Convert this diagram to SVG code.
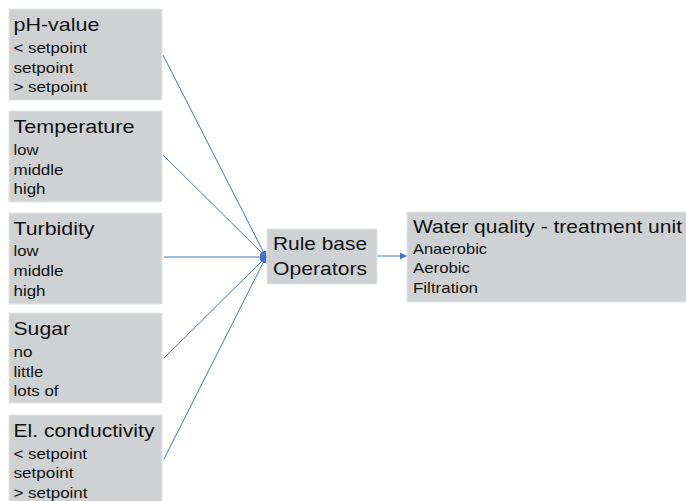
<svg xmlns="http://www.w3.org/2000/svg" width="686" height="501" viewBox="0 0 686 501">
<style>
.box{fill:#D0D1D3;stroke:#E4E5E6;stroke-width:1}
.t{font-family:"Liberation Sans",Arial,sans-serif;font-size:19px;fill:#111}
.i{font-family:"Liberation Sans",Arial,sans-serif;font-size:14.5px;fill:#111}
.c{stroke:#4472C4;stroke-width:1;fill:none;marker-end:url(#ah)}
</style>
<defs>
<marker id="ah" markerUnits="userSpaceOnUse" markerWidth="7" markerHeight="7" refX="6" refY="3.5" orient="auto">
<path d="M0,0 L7,3.5 L0,7 Z" fill="#4472C4"/>
</marker>
</defs>
<rect width="686" height="501" fill="#fff"/>
<g id="connectors">
<line class="c" x1="163" y1="55" x2="266" y2="257"/>
<line class="c" x1="163" y1="155" x2="266" y2="257"/>
<line class="c" x1="164" y1="257" x2="266" y2="257"/>
<line class="c" x1="164" y1="358" x2="266" y2="257"/>
<line class="c" x1="164" y1="459" x2="266" y2="257"/>
<line class="c" x1="377" y1="256" x2="406" y2="256"/>
</g>
<g id="ph">
<rect class="box" x="9" y="9" width="153" height="91"/>
<text class="t" x="13.5" y="31" textLength="86" lengthAdjust="spacingAndGlyphs">pH-value</text>
<text class="i" x="13.5" y="53" textLength="73.5" lengthAdjust="spacingAndGlyphs">&lt; setpoint</text>
<text class="i" x="13.5" y="73" textLength="60" lengthAdjust="spacingAndGlyphs">setpoint</text>
<text class="i" x="13.5" y="92" textLength="74" lengthAdjust="spacingAndGlyphs">&gt; setpoint</text>
</g>
<g id="temperature">
<rect class="box" x="9" y="111" width="153" height="91"/>
<text class="t" x="13.5" y="133" textLength="121" lengthAdjust="spacingAndGlyphs">Temperature</text>
<text class="i" x="13.5" y="155" textLength="25" lengthAdjust="spacingAndGlyphs">low</text>
<text class="i" x="13.5" y="175" textLength="50" lengthAdjust="spacingAndGlyphs">middle</text>
<text class="i" x="13.5" y="194" textLength="32" lengthAdjust="spacingAndGlyphs">high</text>
</g>
<g id="turbidity">
<rect class="box" x="9" y="213" width="153" height="91"/>
<text class="t" x="13.5" y="235" textLength="81" lengthAdjust="spacingAndGlyphs">Turbidity</text>
<text class="i" x="13.5" y="256" textLength="25" lengthAdjust="spacingAndGlyphs">low</text>
<text class="i" x="13.5" y="276" textLength="50" lengthAdjust="spacingAndGlyphs">middle</text>
<text class="i" x="13.5" y="296" textLength="32" lengthAdjust="spacingAndGlyphs">high</text>
</g>
<g id="sugar">
<rect class="box" x="9" y="313" width="153" height="90"/>
<text class="t" x="13.5" y="335" textLength="56.5" lengthAdjust="spacingAndGlyphs">Sugar</text>
<text class="i" x="13.5" y="357" textLength="19" lengthAdjust="spacingAndGlyphs">no</text>
<text class="i" x="13.5" y="377" textLength="30" lengthAdjust="spacingAndGlyphs">little</text>
<text class="i" x="13.5" y="396" textLength="45" lengthAdjust="spacingAndGlyphs">lots of</text>
</g>
<g id="conductivity">
<rect class="box" x="9" y="415" width="153" height="91"/>
<text class="t" x="13.5" y="437" textLength="141" lengthAdjust="spacingAndGlyphs">El. conductivity</text>
<text class="i" x="13.5" y="459" textLength="73.5" lengthAdjust="spacingAndGlyphs">&lt; setpoint</text>
<text class="i" x="13.5" y="478" textLength="60" lengthAdjust="spacingAndGlyphs">setpoint</text>
<text class="i" x="13.5" y="498" textLength="74" lengthAdjust="spacingAndGlyphs">&gt; setpoint</text>
</g>
<g id="rulebase">
<rect class="box" x="267" y="229" width="110" height="55"/>
<text class="t" x="273" y="250" textLength="94" lengthAdjust="spacingAndGlyphs">Rule base</text>
<text class="t" x="273" y="275" textLength="94" lengthAdjust="spacingAndGlyphs">Operators</text>
</g>
<g id="waterquality">
<rect class="box" x="407" y="212" width="285" height="90"/>
<text class="t" x="413" y="233" textLength="269" lengthAdjust="spacingAndGlyphs">Water quality - treatment unit</text>
<text class="i" x="413" y="253.5" textLength="74" lengthAdjust="spacingAndGlyphs">Anaerobic</text>
<text class="i" x="413" y="273" textLength="57" lengthAdjust="spacingAndGlyphs">Aerobic</text>
<text class="i" x="413" y="292.5" textLength="65" lengthAdjust="spacingAndGlyphs">Filtration</text>
</g>
</svg>
